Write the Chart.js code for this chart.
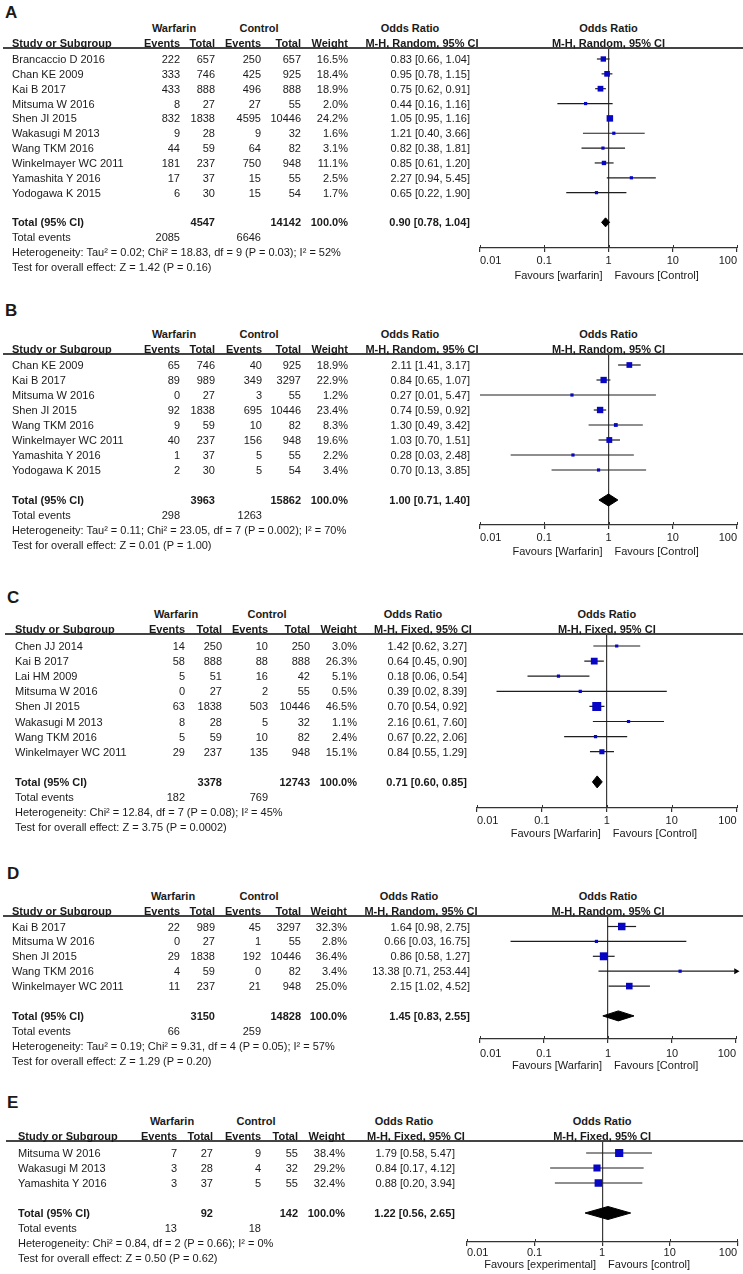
<!DOCTYPE html>
<html>
<head>
<meta charset="utf-8">
<script src="https://cdn.jsdelivr.net/npm/chart.js@4.4.1/dist/chart.umd.min.js"></script>
<style>
html,body{margin:0;padding:0;background:#fff;}
#page{position:relative;width:743px;height:1274px;overflow:hidden;background:#fff;font-family:"Liberation Sans",Arial,sans-serif;color:#1a1a1a;}
.t{position:absolute;white-space:nowrap;font-size:11px;line-height:11px;}
.b{font-weight:bold;}
canvas{position:absolute;left:0;}
.rule{position:absolute;height:1.5px;background:#444;}
</style>
</head>
<body>
<div id="page"></div>
<script>
// ---------- shared axis ----------
const tickValues = [0.01, 0.1, 1, 10, 100];
const tickLabels = ['0.01', '0.1', '1', '10', '100'];

// ---------- Panel A ----------
const studiesA = ['Brancaccio D 2016','Chan KE 2009','Kai B 2017','Mitsuma W 2016','Shen JI 2015','Wakasugi M 2013','Wang TKM 2016','Winkelmayer WC 2011','Yamashita Y 2016','Yodogawa K 2015'];
const warfEventsA = [222,333,433,8,832,9,44,181,17,6];
const warfTotalA = [657,746,888,27,1838,28,59,237,37,30];
const ctrlEventsA = [250,425,496,27,4595,9,64,750,15,15];
const ctrlTotalA = [657,925,888,55,10446,32,82,948,55,54];
const weightA = [16.5,18.4,18.9,2.0,24.2,1.6,3.1,11.1,2.5,1.7];
const oddsA = [0.83,0.95,0.75,0.44,1.05,1.21,0.82,0.85,2.27,0.65];
const lowerA = [0.66,0.78,0.62,0.16,0.95,0.40,0.38,0.61,0.94,0.22];
const upperA = [1.04,1.15,0.91,1.16,1.16,3.66,1.81,1.20,5.45,1.90];
const totalNA = [4547,14142];
const totalEventsA = [2085,6646];
const summaryA = [0.90,0.78,1.04];
const heteroA = 'Heterogeneity: Tau² = 0.02; Chi² = 18.83, df = 9 (P = 0.03); I² = 52%';
const testA = 'Test for overall effect: Z = 1.42 (P = 0.16)';
const methodA = 'M-H, Random, 95% CI';
const favoursA = ['Favours [warfarin]','Favours [Control]'];

// ---------- Panel B ----------
const studiesB = ['Chan KE 2009','Kai B 2017','Mitsuma W 2016','Shen JI 2015','Wang TKM 2016','Winkelmayer WC 2011','Yamashita Y 2016','Yodogawa K 2015'];
const warfEventsB = [65,89,0,92,9,40,1,2];
const warfTotalB = [746,989,27,1838,59,237,37,30];
const ctrlEventsB = [40,349,3,695,10,156,5,5];
const ctrlTotalB = [925,3297,55,10446,82,948,55,54];
const weightB = [18.9,22.9,1.2,23.4,8.3,19.6,2.2,3.4];
const oddsB = [2.11,0.84,0.27,0.74,1.30,1.03,0.28,0.70];
const lowerB = [1.41,0.65,0.01,0.59,0.49,0.70,0.03,0.13];
const upperB = [3.17,1.07,5.47,0.92,3.42,1.51,2.48,3.85];
const totalNB = [3963,15862];
const totalEventsB = [298,1263];
const summaryB = [1.00,0.71,1.40];
const heteroB = 'Heterogeneity: Tau² = 0.11; Chi² = 23.05, df = 7 (P = 0.002); I² = 70%';
const testB = 'Test for overall effect: Z = 0.01 (P = 1.00)';
const methodB = 'M-H, Random, 95% CI';
const favoursB = ['Favours [Warfarin]','Favours [Control]'];

// ---------- Panel C ----------
const studiesC = ['Chen JJ 2014','Kai B 2017','Lai HM 2009','Mitsuma W 2016','Shen JI 2015','Wakasugi M 2013','Wang TKM 2016','Winkelmayer WC 2011'];
const warfEventsC = [14,58,5,0,63,8,5,29];
const warfTotalC = [250,888,51,27,1838,28,59,237];
const ctrlEventsC = [10,88,16,2,503,5,10,135];
const ctrlTotalC = [250,888,42,55,10446,32,82,948];
const weightC = [3.0,26.3,5.1,0.5,46.5,1.1,2.4,15.1];
const oddsC = [1.42,0.64,0.18,0.39,0.70,2.16,0.67,0.84];
const lowerC = [0.62,0.45,0.06,0.02,0.54,0.61,0.22,0.55];
const upperC = [3.27,0.90,0.54,8.39,0.92,7.60,2.06,1.29];
const totalNC = [3378,12743];
const totalEventsC = [182,769];
const summaryC = [0.71,0.60,0.85];
const heteroC = 'Heterogeneity: Chi² = 12.84, df = 7 (P = 0.08); I² = 45%';
const testC = 'Test for overall effect: Z = 3.75 (P = 0.0002)';
const methodC = 'M-H, Fixed, 95% CI';
const favoursC = ['Favours [Warfarin]','Favours [Control]'];

// ---------- Panel D ----------
const studiesD = ['Kai B 2017','Mitsuma W 2016','Shen JI 2015','Wang TKM 2016','Winkelmayer WC 2011'];
const warfEventsD = [22,0,29,4,11];
const warfTotalD = [989,27,1838,59,237];
const ctrlEventsD = [45,1,192,0,21];
const ctrlTotalD = [3297,55,10446,82,948];
const weightD = [32.3,2.8,36.4,3.4,25.0];
const oddsD = [1.64,0.66,0.86,13.38,2.15];
const lowerD = [0.98,0.03,0.58,0.71,1.02];
const upperD = [2.75,16.75,1.27,253.44,4.52];
const totalND = [3150,14828];
const totalEventsD = [66,259];
const summaryD = [1.45,0.83,2.55];
const heteroD = 'Heterogeneity: Tau² = 0.19; Chi² = 9.31, df = 4 (P = 0.05); I² = 57%';
const testD = 'Test for overall effect: Z = 1.29 (P = 0.20)';
const methodD = 'M-H, Random, 95% CI';
const favoursD = ['Favours [Warfarin]','Favours [Control]'];

// ---------- Panel E ----------
const studiesE = ['Mitsuma W 2016','Wakasugi M 2013','Yamashita Y 2016'];
const warfEventsE = [7,3,3];
const warfTotalE = [27,28,37];
const ctrlEventsE = [9,4,5];
const ctrlTotalE = [55,32,55];
const weightE = [38.4,29.2,32.4];
const oddsE = [1.79,0.84,0.88];
const lowerE = [0.58,0.17,0.20];
const upperE = [5.47,4.12,3.94];
const totalNE = [92,142];
const totalEventsE = [13,18];
const summaryE = [1.22,0.56,2.65];
const heteroE = 'Heterogeneity: Chi² = 0.84, df = 2 (P = 0.66); I² = 0%';
const testE = 'Test for overall effect: Z = 0.50 (P = 0.62)';
const methodE = 'M-H, Fixed, 95% CI';
const favoursE = ['Favours [experimental]','Favours [control]'];

// ---------- layout (positions only) ----------
const panels = [
  {letter:'A', studies:studiesA, wEv:warfEventsA, wN:warfTotalA, cEv:ctrlEventsA, cN:ctrlTotalA, wt:weightA, or:oddsA, lo:lowerA, hi:upperA, tot:totalNA, ev:totalEventsA, sum:summaryA, het:heteroA, test:testA, method:methodA, fav:favoursA,
   g:{letterX:5, letterY:12, lineY:48, lineX0:3, firstY:59, rowH:14.85, axisY:248, plotL:480, plotR:737, nameX:12, cols:[180,215,261,301,348], orR:470, warfC:174, ctrlC:259, orHdrC:410, mhC:422, tickPad:2, favY:275, dH:4.5}},
  {letter:'B', studies:studiesB, wEv:warfEventsB, wN:warfTotalB, cEv:ctrlEventsB, cN:ctrlTotalB, wt:weightB, or:oddsB, lo:lowerB, hi:upperB, tot:totalNB, ev:totalEventsB, sum:summaryB, het:heteroB, test:testB, method:methodB, fav:favoursB,
   g:{letterX:5, letterY:310, lineY:354, lineX0:3, firstY:365, rowH:15, axisY:525, plotL:480, plotR:737, nameX:12, cols:[180,215,262,301,348], orR:470, warfC:174, ctrlC:259, orHdrC:410, mhC:422, tickPad:2, favY:551, dH:6}},
  {letter:'C', studies:studiesC, wEv:warfEventsC, wN:warfTotalC, cEv:ctrlEventsC, cN:ctrlTotalC, wt:weightC, or:oddsC, lo:lowerC, hi:upperC, tot:totalNC, ev:totalEventsC, sum:summaryC, het:heteroC, test:testC, method:methodC, fav:favoursC,
   g:{letterX:7, letterY:597, lineY:634, lineX0:5, firstY:646, rowH:15.1, axisY:808, plotL:477, plotR:737, nameX:15, cols:[185,222,268,310,357], orR:467, warfC:176, ctrlC:267, orHdrC:413, mhC:423, tickPad:2, favY:833, dH:6}},
  {letter:'D', studies:studiesD, wEv:warfEventsD, wN:warfTotalD, cEv:ctrlEventsD, cN:ctrlTotalD, wt:weightD, or:oddsD, lo:lowerD, hi:upperD, tot:totalND, ev:totalEventsD, sum:summaryD, het:heteroD, test:testD, method:methodD, fav:favoursD,
   g:{letterX:7, letterY:873, lineY:916, lineX0:3, firstY:926.5, rowH:14.9, axisY:1039, plotL:480, plotR:736, nameX:12, cols:[180,215,261,301,347], orR:470, warfC:173, ctrlC:259, orHdrC:409, mhC:421, tickPad:4, favY:1065, dH:5}},
  {letter:'E', studies:studiesE, wEv:warfEventsE, wN:warfTotalE, cEv:ctrlEventsE, cN:ctrlTotalE, wt:weightE, or:oddsE, lo:lowerE, hi:upperE, tot:totalNE, ev:totalEventsE, sum:summaryE, het:heteroE, test:testE, method:methodE, fav:favoursE,
   g:{letterX:7, letterY:1102, lineY:1141, lineX0:6, firstY:1153, rowH:15, axisY:1242, plotL:467, plotR:742, nameX:18, cols:[177,213,261,298,345], orR:455, warfC:172, ctrlC:256, orHdrC:404, mhC:416, tickPad:0, favY:1264, dH:6.5}}
];

Chart.defaults.font.family = "'Liberation Sans', Arial, sans-serif";
Chart.defaults.font.size = 11;
Chart.defaults.color = '#1a1a1a';

const page = document.getElementById('page');
function txt(x, y, s, align, bold, size) {
  const d = document.createElement('div');
  d.className = 't' + (bold ? ' b' : '');
  d.textContent = s;
  if (size) { d.style.fontSize = size + 'px'; d.style.lineHeight = size + 'px'; }
  d.style.left = x + 'px';
  d.style.top = y + 'px';
  const tx = align === 'right' ? '-100%' : (align === 'center' ? '-50%' : '0');
  d.style.transform = 'translate(' + tx + ',-50%)';
  page.appendChild(d);
}
function ciText(o, l, h) { return o.toFixed(2) + ' [' + l.toFixed(2) + ', ' + h.toFixed(2) + ']'; }

const upTicks = {
  id: 'upTicks',
  afterDraw(chart) {
    const s = chart.scales.x, ctx = chart.ctx, y = chart.chartArea.bottom;
    ctx.save();
    ctx.strokeStyle = '#333';
    ctx.lineWidth = 1;
    s.ticks.forEach(t => {
      const x = Math.round(s.getPixelForValue(t.value)) + 0.5;
      ctx.beginPath(); ctx.moveTo(x, y - 3); ctx.lineTo(x, y); ctx.stroke();
    });
    ctx.restore();
  }
};

const xMin = tickValues[0], xMax = tickValues[tickValues.length - 1];

panels.forEach(p => {
  const g = p.g, n = p.studies.length;
  const canvasTop = g.lineY - 10;
  const axisH = 28;
  const cH = g.axisY - canvasTop + axisH;
  const cv = document.createElement('canvas');
  cv.width = 743; cv.height = cH;
  cv.style.top = canvasTop + 'px';
  cv.style.width = '743px'; cv.style.height = cH + 'px';
  page.appendChild(cv);

  const yMin = (g.lineY - g.firstY) / g.rowH;
  const yMax = (g.axisY - g.firstY) / g.rowH;
  const T = n + 1;
  const h = g.dH / g.rowH;

  const datasets = [];
  datasets.push({
    label: 'studies', data: p.or.map((v, i) => ({x: v, y: i})),
    pointStyle: 'rect',
    pointRadius: p.wt.map(w => Math.max(3.2, 1.32 * Math.sqrt(w)) / Math.SQRT2),
    backgroundColor: '#0606c4', borderColor: '#0606c4', borderWidth: 0, showLine: false
  });
  datasets.push({
    label: 'total', data: [
      {x: p.sum[1], y: T}, {x: p.sum[0], y: T - h}, {x: p.sum[2], y: T}, {x: p.sum[0], y: T + h}, {x: p.sum[1], y: T}
    ],
    showLine: true, fill: 'shape', backgroundColor: '#000', borderColor: '#000', borderWidth: 1, pointRadius: 0, tension: 0
  });
  p.lo.forEach((lo, i) => datasets.push({
    label: 'ci' + i, data: [{x: lo, y: i}, {x: p.hi[i], y: i}],
    showLine: true, borderColor: '#1e1e1e', borderWidth: 1.2, pointRadius: 0
  }));
  const arrows = p.hi.map((v, i) => v > xMax ? {x: xMax, y: i} : null).filter(Boolean);
  if (arrows.length) datasets.push({
    label: 'arrow', data: arrows, pointStyle: 'triangle', rotation: 90, pointRadius: 3.5,
    backgroundColor: '#000', borderColor: '#000', borderWidth: 0, clip: false
  });

  const chart = new Chart(cv, {
    type: 'scatter',
    data: {datasets},
    plugins: [upTicks],
    options: {
      responsive: false, animation: false, events: [],
      layout: {padding: {left: g.plotL, right: 743 - g.plotR, top: 10, bottom: 0}},
      plugins: {legend: {display: false}, tooltip: {enabled: false}},
      scales: {
        x: {
          type: 'logarithmic', min: xMin, max: xMax, position: 'bottom',
          afterBuildTicks: s => { s.ticks = tickValues.map(v => ({value: v})); },
          afterFit: s => { s.height = axisH; },
          ticks: {callback: (v, i) => tickLabels[i], align: 'inner', autoSkip: false, maxRotation: 0, minRotation: 0, padding: g.tickPad, color: '#1a1a1a', font: {size: 11}},
          grid: {color: c => (c.tick && c.tick.value === 1) ? '#3a3a3a' : 'rgba(0,0,0,0)', tickColor: '#333', tickLength: 4, lineWidth: 1.2},
          border: {display: true, color: '#333', width: 1.2}
        },
        y: {type: 'linear', display: false, reverse: true, min: yMin, max: yMax}
      }
    }
  });

  const Y = k => canvasTop + chart.scales.y.getPixelForValue(k);
  const fc = (chart.chartArea.left + chart.chartArea.right) / 2;
  const vx = chart.scales.x.getPixelForValue(1);

  // panel letter
  txt(g.letterX, g.letterY, p.letter, 'left', true, 17);
  // header rule
  const r = document.createElement('div');
  r.className = 'rule';
  r.style.left = g.lineX0 + 'px'; r.style.top = (g.lineY - 0.75) + 'px'; r.style.width = (743 - g.lineX0) + 'px';
  page.appendChild(r);
  // headers
  const h1 = g.lineY - 20, h2 = g.lineY - 5;
  txt(g.warfC, h1, 'Warfarin', 'center', true);
  txt(g.ctrlC, h1, 'Control', 'center', true);
  txt(g.orHdrC, h1, 'Odds Ratio', 'center', true);
  txt(fc, h1, 'Odds Ratio', 'center', true);
  txt(g.nameX, h2, 'Study or Subgroup', 'left', true);
  txt(g.cols[0], h2, 'Events', 'right', true);
  txt(g.cols[1], h2, 'Total', 'right', true);
  txt(g.cols[2], h2, 'Events', 'right', true);
  txt(g.cols[3], h2, 'Total', 'right', true);
  txt(g.cols[4], h2, 'Weight', 'right', true);
  txt(g.mhC, h2, p.method, 'center', true);
  txt(fc, h2, p.method, 'center', true);
  // study rows
  p.studies.forEach((s, i) => {
    const y = Y(i);
    txt(g.nameX, y, s, 'left');
    txt(g.cols[0], y, String(p.wEv[i]), 'right');
    txt(g.cols[1], y, String(p.wN[i]), 'right');
    txt(g.cols[2], y, String(p.cEv[i]), 'right');
    txt(g.cols[3], y, String(p.cN[i]), 'right');
    txt(g.cols[4], y, p.wt[i].toFixed(1) + '%', 'right');
    txt(g.orR, y, ciText(p.or[i], p.lo[i], p.hi[i]), 'right');
  });
  // total rows
  const yt = Y(T);
  txt(g.nameX, yt, 'Total (95% CI)', 'left', true);
  txt(g.cols[1], yt, String(p.tot[0]), 'right', true);
  txt(g.cols[3], yt, String(p.tot[1]), 'right', true);
  txt(g.cols[4], yt, '100.0%', 'right', true);
  txt(g.orR, yt, ciText(p.sum[0], p.sum[1], p.sum[2]), 'right', true);
  const ye = Y(T + 1);
  txt(g.nameX, ye, 'Total events', 'left');
  txt(g.cols[0], ye, String(p.ev[0]), 'right');
  txt(g.cols[2], ye, String(p.ev[1]), 'right');
  txt(g.nameX, Y(T + 2), p.het, 'left');
  txt(g.nameX, Y(T + 3), p.test, 'left');
  // favours
  txt(vx - 6, g.favY, p.fav[0], 'right');
  txt(vx + 6, g.favY, p.fav[1], 'left');
});
</script>
</body>
</html>
